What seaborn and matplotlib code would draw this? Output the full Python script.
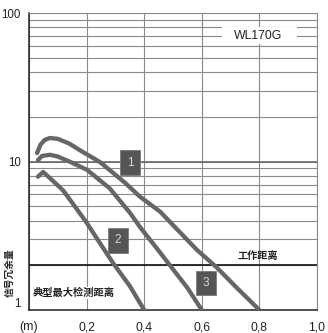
import matplotlib
matplotlib.use("Agg")
import matplotlib.pyplot as plt
from matplotlib.ticker import LogLocator, NullFormatter
from matplotlib.patches import Rectangle
import seaborn as sns
import pandas as pd

# Signal margin vs. distance for the three operating curves
curve1_x = [0.028, 0.04, 0.055, 0.073, 0.10, 0.14, 0.177, 0.247, 0.333, 0.385, 0.455, 0.52, 0.583, 0.65, 0.72, 0.8]
curve1_y = [11.4, 13.0, 14.0, 14.4, 14.2, 13.2, 11.9, 9.9, 7.2, 5.8, 4.6, 3.4, 2.54, 1.95, 1.42, 1.0]

curve2_x = [0.031, 0.045, 0.073, 0.10, 0.14, 0.201, 0.28, 0.351, 0.385, 0.455, 0.5, 0.55, 0.6]
curve2_y = [10.2, 10.9, 11.1, 10.8, 10.0, 8.8, 6.6, 4.5, 3.63, 2.44, 1.88, 1.41, 1.0]

curve3_x = [0.031, 0.049, 0.08, 0.118, 0.16, 0.201, 0.25, 0.292, 0.35, 0.4]
curve3_y = [7.9, 8.5, 7.5, 6.4, 4.96, 3.85, 2.75, 2.07, 1.45, 1.0]

x_ticks = [0, 0.2, 0.4, 0.6, 0.8, 1.0]
x_labels = ["(m)", "0,2", "0,4", "0,6", "0,8", "1,0"]
y_ticks = [1, 10, 100]
y_labels = ["1", "10", "100"]

sns.set_style("white")
plt.rcParams["font.family"] = ["Liberation Sans", "Noto Sans CJK SC", "DejaVu Sans"]
cjk = ["Noto Sans CJK SC", "DejaVu Sans"]

df = pd.concat([
    pd.DataFrame({"d": curve1_x, "m": curve1_y, "c": "1"}),
    pd.DataFrame({"d": curve2_x, "m": curve2_y, "c": "2"}),
    pd.DataFrame({"d": curve3_x, "m": curve3_y, "c": "3"}),
])

fig = plt.figure(figsize=(3.28, 3.33), dpi=100)
ax = fig.add_axes([29 / 328, 1 - 310 / 333, 288 / 328, 297 / 333])

ax.set_yscale("log")
ax.set_xlim(0, 1)
ax.set_ylim(1, 100)

# grid
ax.set_xticks(x_ticks)
ax.set_xticklabels(x_labels)
ax.set_yticks(y_ticks)
ax.set_yticklabels(y_labels)
ax.yaxis.set_minor_locator(LogLocator(base=10, subs=range(2, 10)))
ax.yaxis.set_minor_formatter(NullFormatter())
ax.grid(which="major", axis="both", color="#8a8a8a", lw=0.8)
ax.grid(which="minor", axis="y", color="#8a8a8a", lw=0.8)
ax.axhline(10, color="#6a6a6a", lw=1.2, zorder=1)
ax.axhline(2, color="#202020", lw=1.3, zorder=1)
ax.set_axisbelow(True)

ax.tick_params(axis="both", length=0, labelsize=8.8, colors="#222222")
ax.tick_params(axis="x", pad=8)
ax.tick_params(axis="y", pad=6, labelsize=8.3)
ax.get_yticklabels()[0].set_va("bottom")

for s in ["left", "bottom"]:
    ax.spines[s].set_color("#222222")
    ax.spines[s].set_linewidth(1.1)
for s in ["top", "right"]:
    ax.spines[s].set_color("#8a8a8a")
    ax.spines[s].set_linewidth(0.8)

sns.lineplot(data=df, x="d", y="m", hue="c", units="c", estimator=None, sort=False,
             palette=["#666666"] * 3, lw=3.1, legend=False, ax=ax,
             solid_capstyle="round", zorder=3)
ax.set_xlabel("")
ax.set_ylabel("")

# model name on a white patch
ax.add_patch(Rectangle((0.67, 61.5), 0.26, 19.5, facecolor="white", edgecolor="none", zorder=2))
ax.text(0.795, 70, "WL170G", ha="center", va="center", fontsize=8.8, color="#222222", zorder=4)

# curve numbers
for lbl, bx, by in [("1", 0.351, 9.8), ("2", 0.309, 2.96), ("3", 0.615, 1.52)]:
    ax.text(bx, by, lbl, ha="center", va="center", fontsize=8.5, color="#d8d8d8", zorder=5,
            bbox=dict(boxstyle="square,pad=0.55", facecolor="#555555", edgecolor="#7a7a7a", lw=0.6))

ax.text(0.795, 2.31, "工作距离", ha="center", va="center", fontsize=7.3, family=cjk,
        weight="bold", color="#222222", zorder=4)
ax.text(0.012, 1.30, "典型最大检测距离", ha="left", va="center", fontsize=7.4, family=cjk,
        weight="bold", color="#222222", zorder=4,
        bbox=dict(boxstyle="square,pad=0.1", facecolor="white", edgecolor="none"))

fig.text(10 / 328, 1 - 273 / 333, "信号冗余量", rotation=90, ha="center", va="center",
         fontsize=7.0, family=cjk, weight="bold", color="#222222")

fig.savefig("out.png", dpi=100, facecolor="white")
